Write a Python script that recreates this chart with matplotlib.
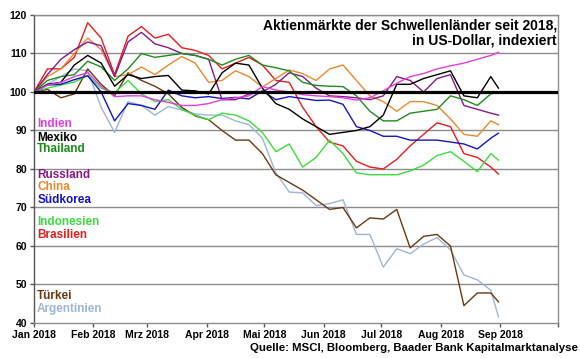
import numpy as np
import matplotlib
matplotlib.use('Agg')
from matplotlib import pyplot as plt

plt.rcParams['font.family'] = ['Liberation Sans', 'DejaVu Sans']

# weekly points, Jan 1 .. Aug 27, plus Aug 31
dates = list(np.arange('2018-01-01', '2018-09-01', 7, dtype='datetime64[D]'))
dates.append(np.datetime64('2018-08-31'))
dates = np.array(dates, dtype='datetime64[D]')

indien = [100, 101.8, 102.5, 104, 105, 101.5, 98.8, 99, 99, 98, 97.3, 96.5, 96.5, 97, 98, 98.5, 99, 101.4,
          100.5, 100, 99.3, 99, 98.8, 98.5, 97.9, 98.5, 100.3, 102.3, 104, 104.8, 106, 106.8, 107.5, 108.5,
          109.5, 110.3]
mexiko = [100, 102, 102.5, 107, 109.5, 107.5, 101.5, 104.5, 103.5, 104, 104.3, 100.5, 100.3, 99.5, 105, 107.5,
          107, 101, 97, 95.5, 93, 91, 89, 89.5, 90, 91, 94, 102, 102, 103.5, 104.5, 105.5, 99, 98.5, 104, 101]
thailand = [100, 103, 104, 104.5, 108, 106.5, 103, 106, 110, 109, 109.5, 110, 109.5, 108.5, 107, 108.5, 109.5,
            107, 106.3, 105.5, 102.5, 101.7, 101.5, 101.4, 99, 95, 92.5, 92.5, 94.5, 95, 95.5, 99, 98, 96.5,
            99.5, 100]
russland = [100, 104.5, 108.5, 111, 113, 112, 104, 113, 115.5, 112.5, 111.5, 110, 109.5, 108.5, 98, 98, 99.5,
            100, 102, 105, 104, 101, 99, 98.8, 98.5, 98, 99, 104, 103, 100, 103.5, 104.5, 96.5, 95.5, 94.5, 94]
china = [100, 104, 106, 110, 114, 111, 104, 104.5, 106.5, 104.5, 107, 109.2, 107.5, 102.5, 103, 105.5, 104,
         101.3, 103.5, 105.7, 104.8, 103, 106, 107, 103, 99, 97.5, 95, 97.5, 97.5, 96.5, 93, 89, 88.5, 92.5, 91.5]
suedkorea = [100, 101.8, 102, 103.2, 104.2, 100, 92.5, 97, 96.5, 95.5, 100.5, 99, 98.5, 98.8, 98.3, 98.6, 98.2,
             100.3, 98, 98.8, 98.3, 97.8, 97.9, 96.8, 91, 90, 88.5, 88.5, 87.5, 87.5, 87.5, 87, 86.5, 85.2, 88, 89.3]
indonesien = [100, 101, 101.8, 102.6, 104.3, 101, 99.8, 103, 99.5, 97.5, 98, 95.5, 94, 92.8, 94.5, 94, 92.5,
              89.5, 84.5, 86.5, 80.5, 83, 87.5, 84, 79, 78.5, 78.5, 78.5, 79.5, 81, 83.5, 84.5, 82, 79.3, 84, 82.3]
brasilien = [100, 106, 106, 109, 118, 114, 104.5, 114.5, 117, 114, 115, 111.5, 110.8, 109.5, 106, 107.5, 109,
             107, 103, 102.5, 96, 91, 87, 86, 82, 80.5, 80, 82.5, 86, 89, 92, 91, 84, 83, 80.5, 78.7]
tuerkei = [100, 100.7, 98.5, 99.5, 106, 102, 99, 105, 103, 101.5, 99.5, 96, 93.8, 92.8, 90, 87.5, 87.5, 84,
           78.5, 76.5, 74.5, 72, 69.5, 70, 64.7, 67.3, 67, 69.5, 59.5, 62.5, 63, 60, 44.5, 47.8, 47.8, 45.5]
argentinien = [100, 102, 104, 106, 105.5, 96, 89.5, 97.5, 96.5, 94, 96.2, 95.3, 94.3, 94, 94, 92.5, 91.5, 88,
               79, 74, 73.8, 70.5, 71, 72, 63, 63, 54.5, 59.3, 58, 60.5, 62.2, 59, 52.5, 51.2, 48.5, 41.6]

names = ['Indien', 'Mexiko', 'Thailand', 'Russland', 'China', 'Südkorea',
         'Indonesien', 'Brasilien', 'Türkei', 'Argentinien']
series = [indien, mexiko, thailand, russland, china, suedkorea,
          indonesien, brasilien, tuerkei, argentinien]
colors = ['#e23ee0', '#000000', '#1e8c1e', '#86198a', '#e8892e', '#1414c4',
          '#3cdc3c', '#e81c1c', '#6b3a10', '#9db6d6']
label_y = [91.7, 88.1, 85.2, 78.4, 75.3, 72.0, 66.2, 62.9, 47.0, 43.6]

month_ticks = np.array(['2018-01-01', '2018-02-01', '2018-03-01', '2018-04-01', '2018-05-01',
                        '2018-06-01', '2018-07-01', '2018-08-01', '2018-09-01', '2018-10-01'],
                       dtype='datetime64[D]')
month_labels = ['Jan 2018', 'Feb 2018', 'Mrz 2018', 'Apr 2018', 'Mai 2018',
                'Jun 2018', 'Jul 2018', 'Aug 2018', 'Sep 2018', '']

fig = plt.figure(figsize=(5.8, 3.58), dpi=100)
ax = fig.add_axes([0.0586, 0.0978, 0.9034, 0.8603])

for yv in range(50, 121, 10):
    ax.axhline(yv, color='#8c8c8c', lw=1.0, zorder=1)

# draw back to front
for vals, col in reversed(list(zip(series, colors))):
    ax.plot(dates, vals, color=col, lw=1.0, zorder=3)

ax.axhline(100, color='black', lw=2.3, zorder=5)

for name, col, yl in zip(names, colors, label_y):
    ax.text(0.006, yl, name, color=col, fontsize=8.5, fontweight='bold',
            transform=ax.get_yaxis_transform(), ha='left', va='center', zorder=6)

ax.text(0.998, 0.988, 'Aktienmärkte der Schwellenländer seit 2018,\nin US-Dollar, indexiert',
        transform=ax.transAxes, ha='right', va='top', fontsize=10, fontweight='bold',
        linespacing=1.1, zorder=6)

ax.set_ylim(40, 120)
ax.set_xlim(month_ticks[0], month_ticks[-1])
ax.set_yticks(range(40, 121, 10))
ax.set_xticks(month_ticks)
ax.set_xticklabels(month_labels)
ax.tick_params(axis='both', labelsize=7.5, length=3, width=1, color='#555555', pad=2)
for lab in ax.get_xticklabels() + ax.get_yticklabels():
    lab.set_fontweight('bold')

for sp in ax.spines.values():
    sp.set_color('#8c8c8c')
    sp.set_linewidth(1.0)
ax.spines['left'].set_color('#555555')

fig.text(0.997, 0.028, 'Quelle: MSCI, Bloomberg, Baader Bank Kapitalmarktanalyse',
         ha='right', va='center', fontsize=8.2, fontweight='bold')

fig.savefig('out.png', dpi=100)
